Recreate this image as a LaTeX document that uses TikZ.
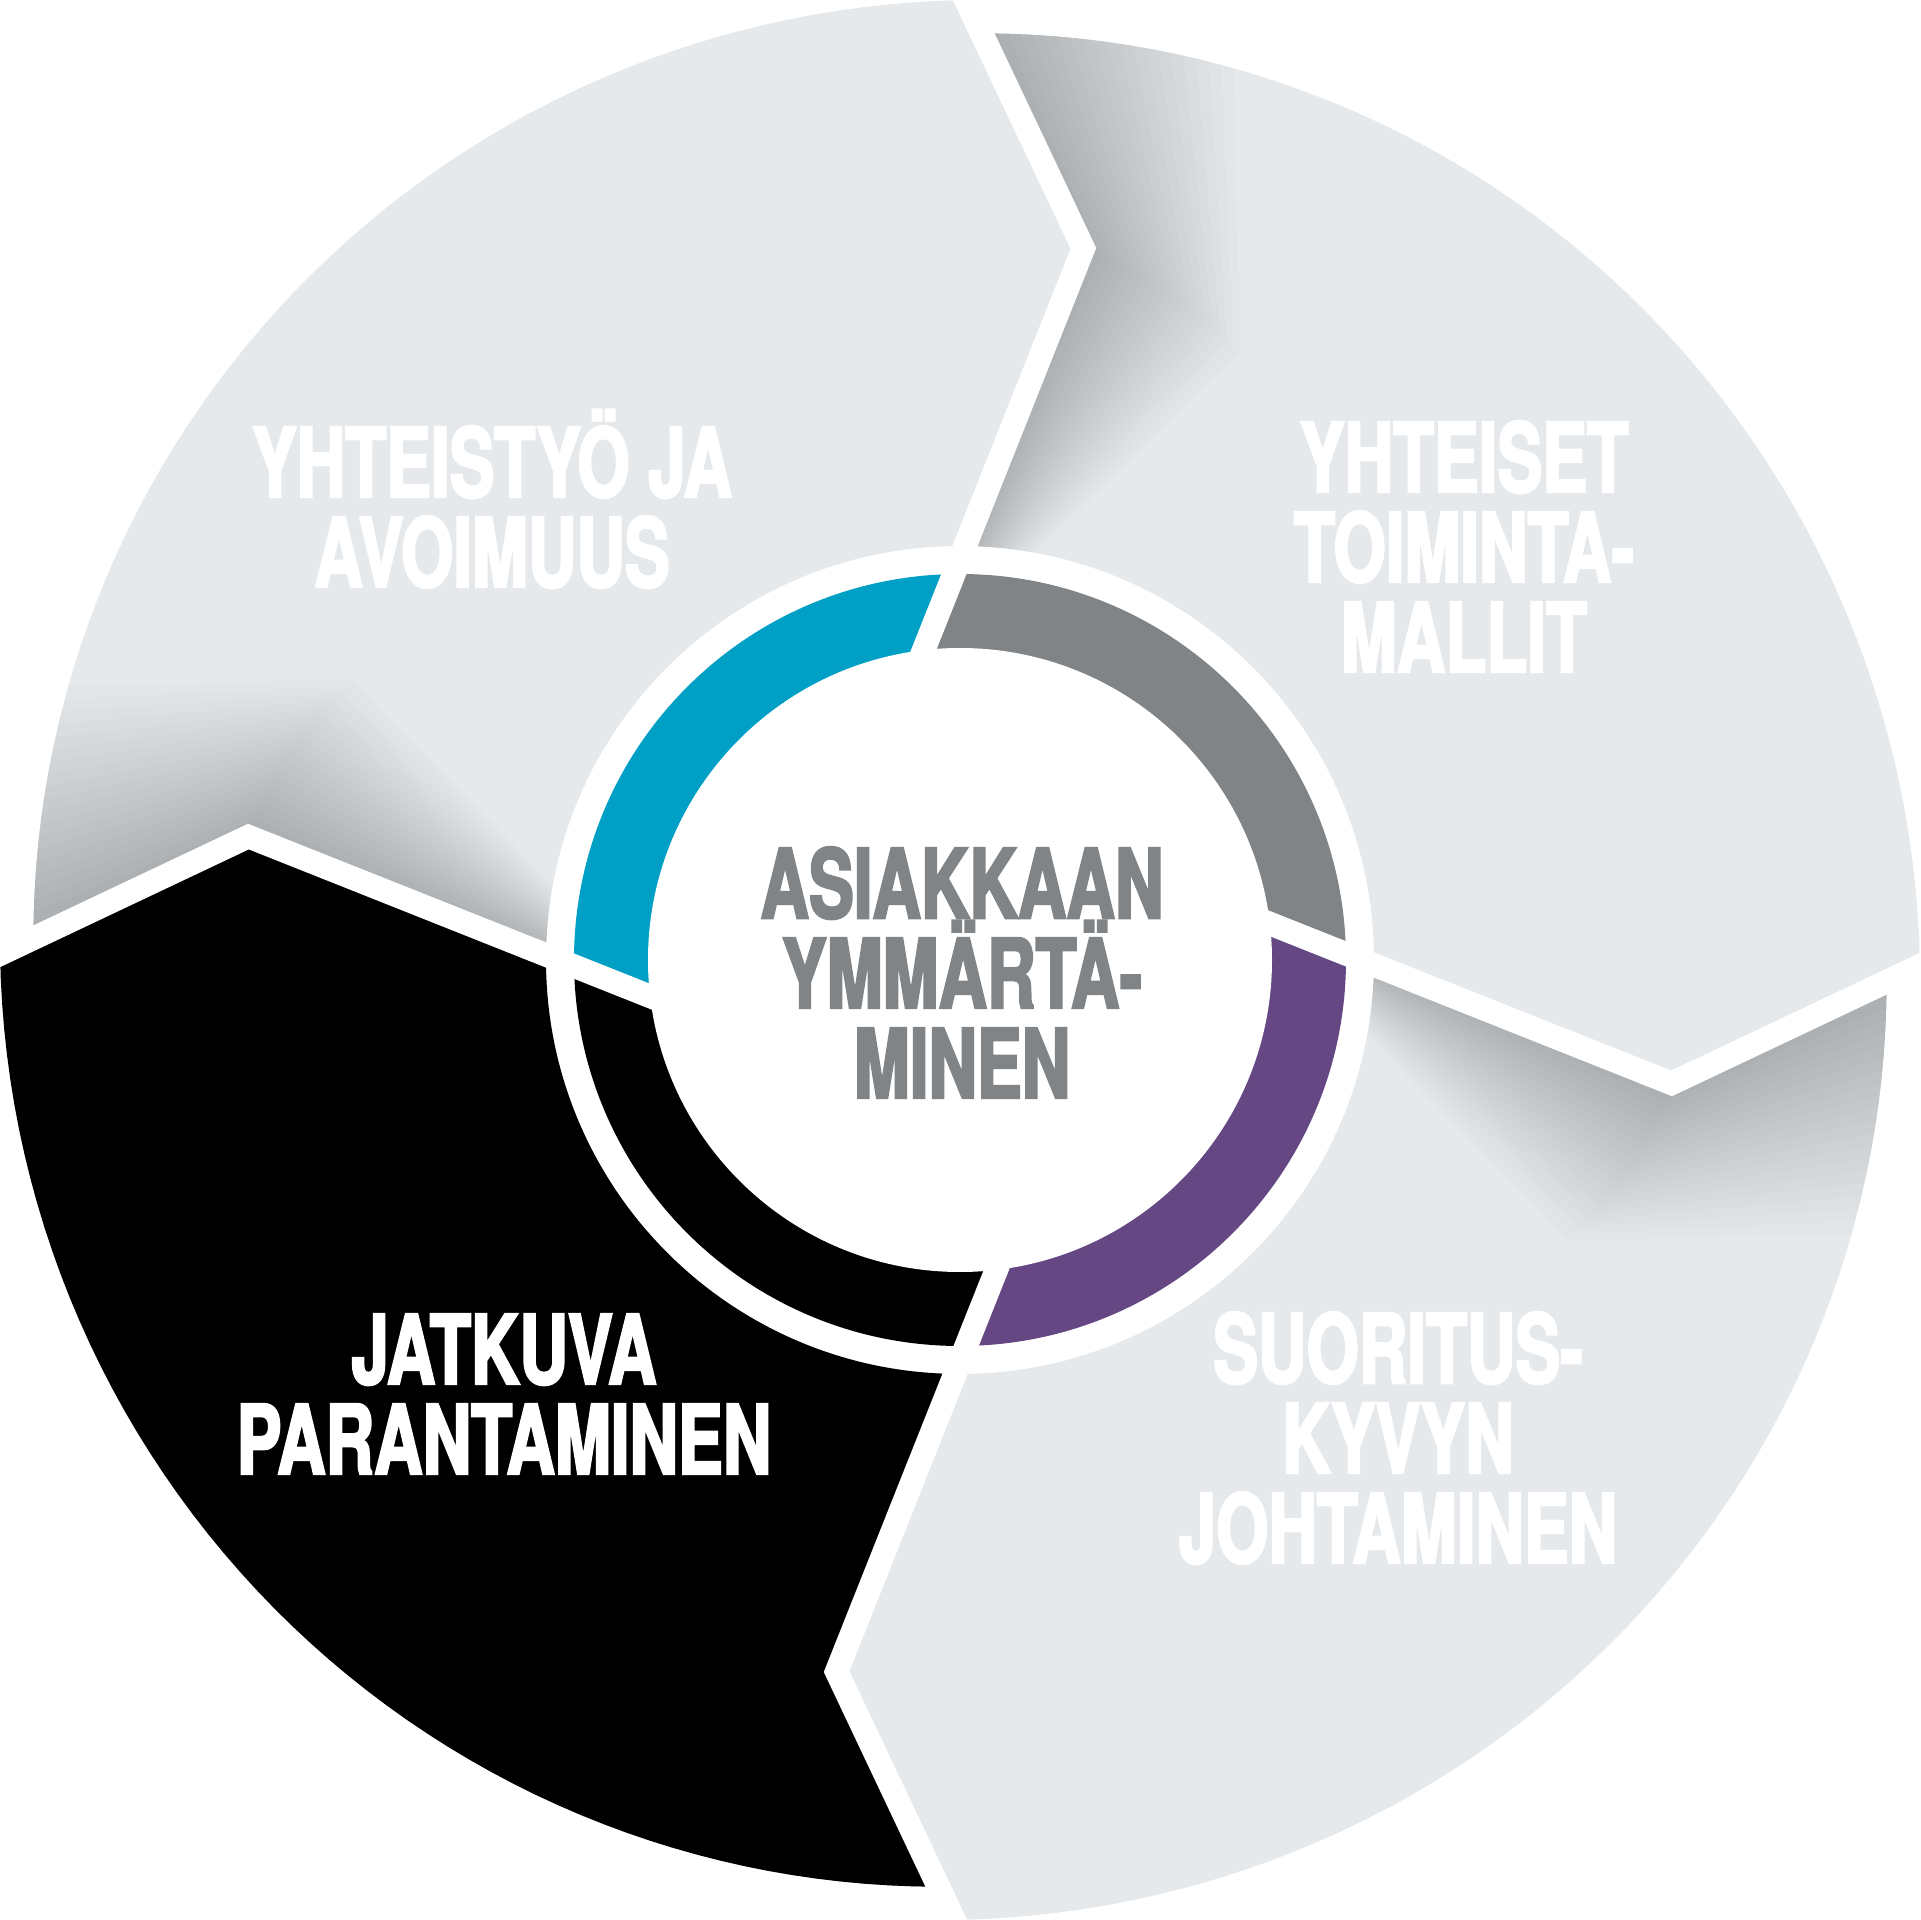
\documentclass[tikz,border=0pt]{standalone}
\usepackage{fontspec}
\newfontfamily\labelfont{TeX Gyre Heros}[FakeStretch=0.70,FakeBold=2.5]
\usepackage{tikz}
\usetikzlibrary{calc}

\definecolor{segfill}{RGB}{230,233,236}
\definecolor{ringblue}{RGB}{0,159,198}
\definecolor{ringgray}{RGB}{129,132,135}
\definecolor{ringpurple}{RGB}{101,72,131}

\tikzset{
  seglabel/.style={font=\labelfont\bfseries\fontsize{27.3}{25.6}\selectfont,
    align=center, inner sep=0pt, anchor=base, text=white},
  gapline/.style={white, line width=2.35mm, line join=miter}
}

% one outer segment (top left), the others are rotated copies
\newcommand{\segpath}{(89.31:4.14) arc[start angle=89.31, end angle=179.31, radius=4.14]
  -- (-7.116,1.234) -- plot[domain=178.67:89.65, samples=60] (\x:{9.27+0.33*(178.67-\x)/89.02})
  -- (1.234,7.116) -- cycle}

\begin{document}
\begin{tikzpicture}
	\useasboundingbox (-9.6,-9.6) rectangle (9.6,9.6);

	% Outer segments with shadow at the notch
	\foreach \ang/\col in {0/segfill, -90/segfill, -180/segfill, -270/black}{
		\begin{scope}[rotate=\ang]
			\clip \segpath;
			\fill[\col] (-10,-10) rectangle (10,10);
			\coordinate (piv) at (-2.90,-0.443);
			\coordinate (notch) at (-7.116,1.234);
			\coordinate (rim) at (-10.01,-0.136);
			\foreach \d in {1.2,2.4,...,24}
				\fill[black, opacity=0.0105] (rim) -- (notch) -- (piv)
					-- ($(piv)!1!-\d:(notch)$) -- ($(piv)!1!-\d:(rim)$) -- cycle;
		\end{scope}
	}

	% Inner ring
	\begin{scope}
		\clip (0,0) circle (3.86);
		\foreach \ang/\col in {0/ringblue, -90/ringgray, -180/ringpurple, -270/black}
			\fill[\col, rotate=\ang] (-0.665,2.342) -- (0.05,4.14) -- (135:6)
				-- (-4.14,0.05) -- (-2.342,-0.665) -- (0,0) -- cycle;
	\end{scope}
	\fill[white] (0,0) circle (3.12);

	% Gaps
	\foreach \ang in {0,-90,-180,-270}
		\draw[gapline, rotate=\ang] (-0.443,2.90) -- (1.234,7.116) -- (-0.136,10.01);

	% Labels (base = last line)
	\node[seglabel] (yhteistyo) at (-4.68,3.73) {YHTEISTYÖ JA\\AVOIMUUS};
	\node[seglabel] (toimintamallit) at (5.04,2.88) {YHTEISET\\TOIMINTA-\\MALLIT};
	\node[seglabel] (suorituskyky) at (4.38,-6.03) {SUORITUS-\\KYVYN\\JOHTAMINEN};
	\node[seglabel] (parantaminen) at (-4.56,-5.14) {JATKUVA\\PARANTAMINEN};
	\node[seglabel, text=ringgray] (asiakas) at (0.02,-1.38) {ASIAKKAAN\\YMMÄRTÄ-\\MINEN};
\end{tikzpicture}
\end{document}
